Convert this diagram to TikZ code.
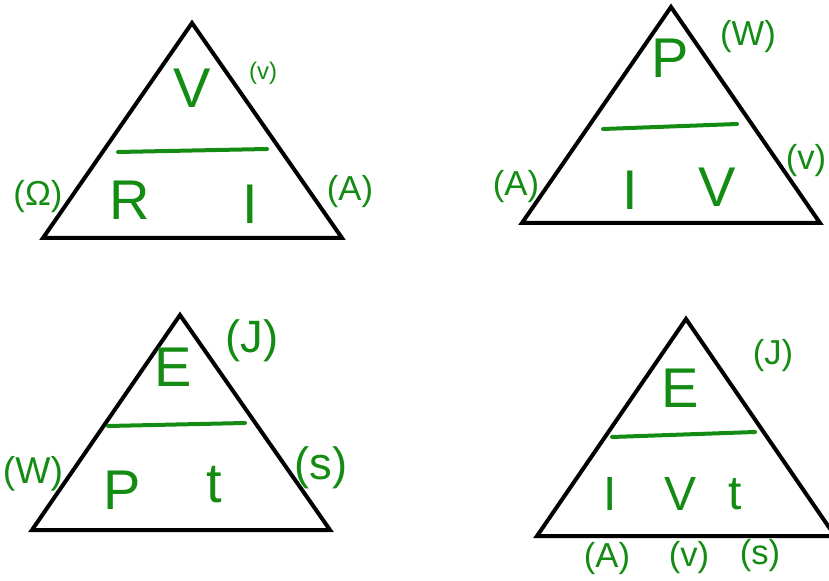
\documentclass[tikz,border=0pt]{standalone}
\usepackage{fontspec}
\setmainfont{Liberation Sans}
\usepackage{xcolor}
\definecolor{penGreen}{RGB}{20,140,20}
\tikzset{
  tri/.style={draw=black, line width=3pt, line join=miter},
  divbar/.style={draw=penGreen, line width=3pt, line cap=round},
  qty/.style={text=penGreen, inner sep=0pt, font=\fontsize{42}{46}\selectfont},
  qtysm/.style={qty, font=\fontsize{36}{40}\selectfont},
  unit/.style={text=penGreen, inner sep=0pt, font=\fontsize{26}{30}\selectfont},
  unitsm/.style={unit, font=\fontsize{18}{22}\selectfont},
  unitbig/.style={unit, font=\fontsize{34}{38}\selectfont}
}
\begin{document}
\begin{tikzpicture}[x=0.75pt, y=-0.75pt]
\useasboundingbox (0,0) rectangle (829,581);
% V over R I
\draw[tri] (192,23) -- (43,238) -- (342,238) -- cycle;
\draw[divbar] (118,152) -- (267,149);
\node[qty] (v1) at (192,88) {V};
\node[qty] (r1) at (130,200) {R};
\node[qty] (i1) at (250,204) {I};
\node[unitsm] (uv1) at (263,73) {(v)};
\node[unit] (uo1) at (38,197) {(Ω)};
\node[unit] (ua1) at (350,192) {(A)};
% P over I V
\draw[tri] (671,7) -- (522,223) -- (820,223) -- cycle;
\draw[divbar] (603,129) -- (737,124);
\node[qty] (p2) at (670,58) {P};
\node[qty] (i2) at (630,190) {I};
\node[qty] (v2) at (717,187) {V};
\node[unit] (uw2) at (748,37) {(W)};
\node[unit] (ua2) at (516,187) {(A)};
\node[unit] (uv2) at (806,161) {(v)};
% E over P t
\draw[tri] (180,315) -- (32,530) -- (330,530) -- cycle;
\draw[divbar] (108,426) -- (245,423);
\node[qty] (e3) at (173,367) {E};
\node[qty] (p3) at (122,490) {P};
\node[qty] (t3) at (214,485) {t};
\node[unitbig] (uj3) at (252,341) {(J)};
\node[unit, font=\fontsize{28}{32}\selectfont] (uw3) at (33,474) {(W)};
\node[unitbig] (us3) at (321,468) {(s)};
% E over I V t
\draw[tri] (686,319) -- (537,536) -- (835,536) -- cycle;
\draw[divbar] (612,437) -- (755,432);
\node[qty] (e4) at (680,388) {E};
\node[qtysm] (i4) at (610,494) {I};
\node[qtysm] (v4) at (681,494) {V};
\node[qtysm] (t4) at (735,494) {t};
\node[unit] (uj4) at (773,356) {(J)};
\node[unit] (ua4) at (607,559) {(A)};
\node[unit] (uv4) at (689,558) {(v)};
\node[unit] (us4) at (760,556) {(s)};
\end{tikzpicture}
\end{document}
